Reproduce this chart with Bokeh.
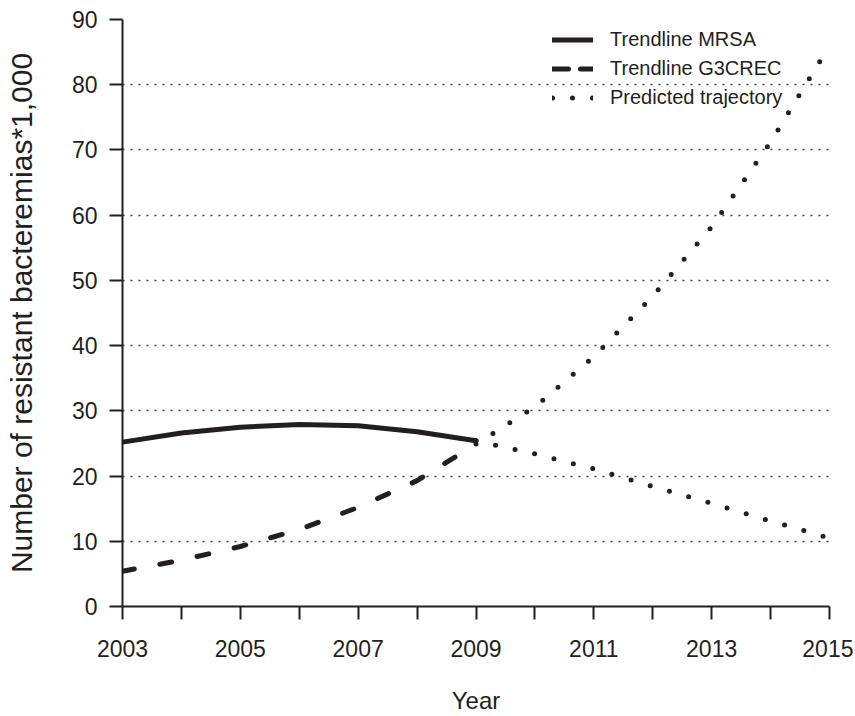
from bokeh.plotting import figure
from bokeh.models import Range1d, FixedTicker, Legend, LegendItem, ColumnDataSource
from bokeh.embed import file_html
from bokeh.resources import INLINE

# ---- data ----
years_obs = [2003, 2004, 2005, 2006, 2007, 2008, 2009]
mrsa_trend = [25.2, 26.6, 27.5, 27.9, 27.7, 26.8, 25.4]
g3crec_trend = [5.4, 7.1, 9.2, 11.8, 15.2, 19.3, 24.9]

years_pred = [2009, 2010, 2011, 2012, 2013, 2014, 2015]
mrsa_pred = [25.4, 23.4, 21.1, 18.4, 15.8, 13.1, 10.5]
g3crec_pred = [24.9, 30.6, 38.3, 47.6, 58.2, 71.2, 86.0]

x_label_ticks = [2003, 2005, 2007, 2009, 2011, 2013, 2015]
x_minor_ticks = [2004, 2006, 2008, 2010, 2012, 2014]
y_ticks = [0, 10, 20, 30, 40, 50, 60, 70, 80, 90]

legend_labels = ["Trendline MRSA", "Trendline G3CREC", "Predicted trajectory"]

FONT = "Liberation Sans"
INK = "#231f20"

p = figure(width=853, height=716,
           x_range=Range1d(2003, 2015), y_range=Range1d(0, 90),
           output_backend="svg", toolbar_location=None,
           min_border_left=122, min_border_right=24,
           min_border_top=19, min_border_bottom=109)
p.outline_line_color = None
p.background_fill_color = "white"
p.border_fill_color = "white"

# axes
p.xaxis.ticker = FixedTicker(ticks=x_label_ticks, minor_ticks=x_minor_ticks)
p.yaxis.ticker = FixedTicker(ticks=y_ticks, minor_ticks=[])
for ax in (p.xaxis[0], p.yaxis[0]):
    ax.axis_line_color = INK
    ax.axis_line_width = 2
    ax.major_tick_line_color = INK
    ax.major_tick_line_width = 2
    ax.major_tick_out = 13
    ax.major_tick_in = 0
    ax.major_label_text_font = FONT
    ax.major_label_text_font_size = "23px"
    ax.major_label_text_color = INK
    ax.axis_label_text_font = FONT
    ax.axis_label_text_font_style = "normal"
    ax.axis_label_text_color = INK

p.xaxis.minor_tick_line_color = INK
p.xaxis.minor_tick_line_width = 2
p.xaxis.minor_tick_out = 13
p.xaxis.minor_tick_in = 0
p.xaxis.major_label_standoff = 20
p.xaxis.axis_label = "Year"
p.xaxis.axis_label_text_font_size = "24px"
p.xaxis.axis_label_standoff = 27

p.yaxis.minor_tick_line_color = None
p.yaxis.major_label_standoff = 12
p.yaxis.axis_label = "Number of resistant bacteremias*1,000"
p.yaxis.axis_label_text_font_size = "30px"
p.yaxis.axis_label_standoff = 31

# grid
p.xgrid.visible = False
p.ygrid.ticker = FixedTicker(ticks=y_ticks[1:], minor_ticks=[])
p.ygrid.grid_line_color = "#444444"
p.ygrid.grid_line_width = 1.5
p.ygrid.grid_line_dash = "2 6"

# lines
src_obs = ColumnDataSource(dict(x=years_obs, mrsa=mrsa_trend, g3=g3crec_trend))
src_pred = ColumnDataSource(dict(x=years_pred, mrsa=mrsa_pred, g3=g3crec_pred))

r_mrsa = p.line("x", "mrsa", source=src_obs, line_color=INK, line_width=5,
                line_join="round", line_cap="round")
r_g3 = p.line("x", "g3", source=src_obs, line_color=INK, line_width=5,
              line_dash="12 26", line_cap="round", line_join="round")
r_pm = p.line("x", "mrsa", source=src_pred, line_color=INK, line_width=5,
              line_dash="0 20", line_cap="round")
r_pg = p.line("x", "g3", source=src_pred, line_color=INK, line_width=5,
              line_dash="0 20", line_cap="round")

# legend-only key for the dashed style (NaN data: nothing drawn in the plot)
nan = float("nan")
r_g3_key = p.line(x=[nan], y=[nan], line_color=INK, line_width=5,
                  line_dash="16 12", line_cap="round")

legend = Legend(items=[LegendItem(label=legend_labels[0], renderers=[r_mrsa]),
                       LegendItem(label=legend_labels[1], renderers=[r_g3_key]),
                       LegendItem(label=legend_labels[2], renderers=[r_pm])],
                location=(430, 494))
legend.background_fill_alpha = 0
legend.border_line_alpha = 0
legend.padding = 0
legend.margin = 0
legend.spacing = 0
legend.glyph_width = 41
legend.glyph_height = 29
legend.label_height = 29
legend.label_standoff = 17
legend.label_text_font = FONT
legend.label_text_font_size = "20px"
legend.label_text_color = INK
p.add_layout(legend)

open("out.html", "w").write(file_html(p, INLINE))
